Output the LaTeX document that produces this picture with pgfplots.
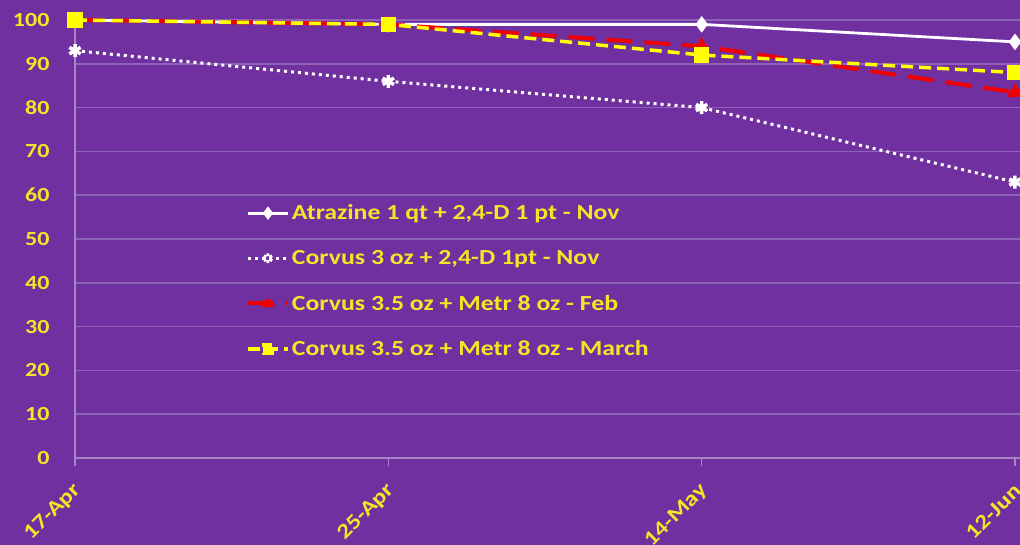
\documentclass[border=0pt]{standalone}
\usepackage{fontspec}
\setmainfont{Carlito}[FakeStretch=1.2]
\usepackage{pgfplots}
\pgfplotsset{compat=1.18}
\definecolor{bg}{HTML}{7030A0}
\definecolor{gridc}{HTML}{8E62B6}
\definecolor{axc}{HTML}{A584C8}
\definecolor{ylw}{HTML}{F3E626}
\definecolor{lylw}{HTML}{FFFF00}
\definecolor{rd}{HTML}{F00000}
\begin{document}
\begin{tikzpicture}
\fill[bg] (0,0) rectangle (1020pt,545pt);
\clip (0,0) rectangle (1020pt,545pt);
\begin{axis}[
  at={(75pt,87pt)}, anchor=south west,
  scale only axis, width=945pt, height=438pt,
  xmin=0, xmax=3.016, ymin=0, ymax=100,
  clip=false,
  axis x line*=bottom, axis y line*=left,
  axis line style={axc, line width=1.2pt},
  xtick={0,1,2,3}, xticklabels={17-Apr,25-Apr,14-May,12-Jun},
  ytick={0,10,...,100},
  tick align=outside,
  x tick style={axc, line width=1.2pt},
  major tick length=8pt,
  y tick style={draw=none},
  ymajorgrids, grid style={gridc, line width=1.5pt},
  /pgf/number format/assume math mode=true,
  yticklabel style={font=\fontsize{20}{22}\selectfont\bfseries, text=ylw, xshift=-14pt},
  xticklabel style={font=\fontsize{21}{24}\selectfont\bfseries, text=ylw, rotate=45, anchor=east, yshift=-17pt, xshift=-10pt},
  legend style={at={(axis cs:0.545,58.3)}, anchor=north west, draw=none, fill=none,
    font=\fontsize{21.5}{25}\selectfont\bfseries, text=ylw, row sep=25pt,
    cells={anchor=west}, inner sep=0pt},
  legend image code/.code={\draw[mark repeat=2,mark phase=2, mark options={scale=0.75}] plot coordinates {(0pt,0pt) (20pt,0pt) (40pt,0pt)};},
]
\addplot[white, line width=2.8pt, mark=diamond*, mark size=6pt, mark options={solid, fill=white}]
  coordinates {(0,100) (1,99) (2,99) (3,95)};
\addlegendentry{Atrazine 1 qt + 2,4-D 1 pt - Nov}
\addplot[white, line width=3pt, dash pattern=on 3pt off 4pt, mark=asterisk, mark size=6.5pt, mark options={solid, line width=3.5pt}]
  coordinates {(0,93) (1,86) (2,80) (3,63)};
\addlegendentry{Corvus 3 oz + 2,4-D 1pt - Nov}
\addplot[rd, line width=4pt, dash pattern=on 26pt off 12pt, mark=triangle*, mark size=5pt, mark options={solid, fill=rd}]
  coordinates {(0,100) (1,99) (2,94) (3,83.5)};
\addlegendentry{Corvus 3.5 oz + Metr 8 oz - Feb}
\addplot[lylw, line width=3.5pt, dash pattern=on 12pt off 6pt, mark=square*, mark size=6pt, mark options={solid, fill=lylw}]
  coordinates {(0,100) (1,99) (2,92) (3,88)};
\addlegendentry{Corvus 3.5 oz + Metr 8 oz - March}
\end{axis}
\end{tikzpicture}
\end{document}
